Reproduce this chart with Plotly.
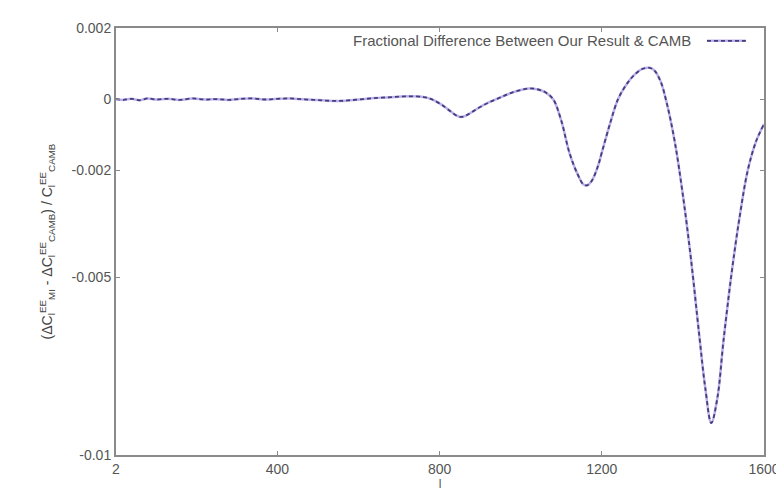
import plotly.graph_objects as go

# multipole l
ell = [2, 20, 40, 60, 80, 100, 130, 160, 190, 220, 250, 280, 310, 340, 370, 400,
       430, 460, 490, 520, 550, 580, 610, 640, 670, 700, 730, 760, 780, 800, 820,
       840, 852, 865, 880, 900, 920, 940, 960, 980, 1000, 1020, 1040, 1060, 1080,
       1100, 1120, 1140, 1155, 1164, 1175, 1190, 1200, 1220, 1240, 1260, 1280,
       1300, 1318, 1330, 1345, 1360, 1380, 1400, 1420, 1440, 1455, 1470, 1485,
       1500, 1520, 1540, 1560, 1580, 1600]
# fractional difference
frac_diff = [0.0, -0.00002, 0.00001, -0.00003, 0.00002, -0.00001, 0.00001, -0.00002,
             0.00002, -0.00001, 0.0, -0.00002, 0.00001, 0.00002, -0.00001, 0.00001,
             0.00002, 0.0, -0.00002, -0.00004, -0.00005, -0.00003, 0.0, 0.00003,
             0.00005, 0.00007, 0.00008, 0.00006, 0.0, -0.00012, -0.00028, -0.00045,
             -0.0005, -0.00046, -0.00036, -0.00022, -0.0001, 0.0, 0.0001, 0.00019,
             0.00026, 0.0003, 0.00028, 0.0002, 0.0, -0.0006, -0.0015, -0.0021,
             -0.0024, -0.00242, -0.0023, -0.0019, -0.0015, -0.0007, 0.0, 0.0004,
             0.00068, 0.00085, 0.00088, 0.0008, 0.0005, -0.0001, -0.0012, -0.0027,
             -0.0045, -0.0066, -0.0081, -0.0091, -0.0084, -0.0068, -0.0049, -0.0033,
             -0.0020, -0.0012, -0.0007]

y_tickvals = [0.002, 0, -0.002, -0.005, -0.01]
y_ticktext = ["0.002", "0", "-0.002", "-0.005", "-0.01"]
x_tickvals = [2, 400, 800, 1200, 1600]
x_ticktext = ["2", "400", "800", "1200", "1600"]
legend_label = "Fractional Difference Between Our Result & CAMB"

FONT = "Liberation Sans, Arial, sans-serif"

fig = go.Figure()
fig.add_trace(go.Scatter(x=ell, y=frac_diff, mode="lines", line_shape="spline",
                         line=dict(color="#bfaee8", width=2.5), showlegend=False,
                         hoverinfo="skip"))
fig.add_trace(go.Scatter(x=ell, y=frac_diff, mode="lines", line_shape="spline",
                         line=dict(color="#41407e", width=1.8, dash="4px,3px"),
                         name=legend_label, showlegend=False))

axis_common = dict(showline=True, linecolor="#8a8a8a", linewidth=2, mirror="ticks",
                   ticks="inside", ticklen=4, tickcolor="#8a8a8a", showgrid=False,
                   zeroline=False, tickfont=dict(family=FONT, size=14, color="#555555"))

fig.update_layout(
    width=784, height=493,
    margin=dict(l=108, r=24, t=15, b=41),
    paper_bgcolor="white", plot_bgcolor="white",
    showlegend=False,
    xaxis=dict(range=[2, 1600], tickvals=x_tickvals, ticktext=x_ticktext,
               title=dict(text="l", font=dict(family=FONT, size=12, color="#555555"),
                          standoff=4), **axis_common),
    yaxis=dict(range=[-0.01, 0.002], tickvals=y_tickvals, ticktext=y_ticktext,
               title=dict(text="(ΔC<sub>l</sub><sup>EE</sup><sub>MI</sub> - ΔC<sub>l</sub><sup>EE</sup><sub>CAMB</sub>) / C<sub>l</sub><sup>EE</sup><sub>CAMB</sub>",
                          font=dict(family=FONT, size=14, color="#444444"), standoff=16),
               **axis_common),
)

fig.add_annotation(xref="paper", yref="paper", x=0.89, y=0.97, xanchor="right",
                   yanchor="middle", text=legend_label, showarrow=False,
                   font=dict(family=FONT, size=15, color="#555555"))
fig.add_shape(type="line", xref="paper", yref="paper", x0=0.912, x1=0.972, y0=0.97,
              y1=0.97, line=dict(color="#bfaee8", width=2.5))
fig.add_shape(type="line", xref="paper", yref="paper", x0=0.912, x1=0.972, y0=0.97,
              y1=0.97, line=dict(color="#41407e", width=1.8, dash="4px,3px"))

fig.write_html("out.html")
